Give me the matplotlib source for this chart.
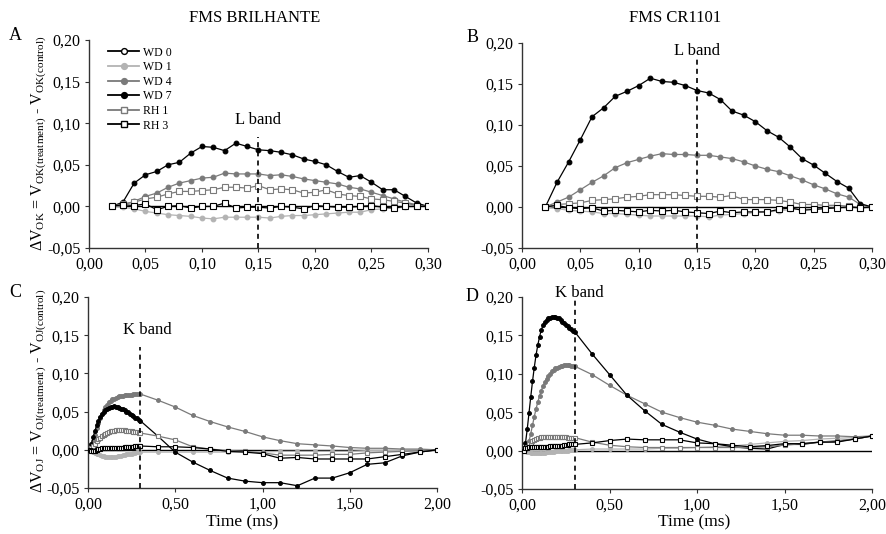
import matplotlib
matplotlib.use("Agg")
import matplotlib.pyplot as plt
from matplotlib.lines import Line2D
from matplotlib.ticker import FuncFormatter, MultipleLocator

plt.rcParams["font.family"] = ["Liberation Serif", "DejaVu Serif"]
plt.rcParams["mathtext.fontset"] = "custom"
plt.rcParams["mathtext.rm"] = "Liberation Serif"
plt.rcParams["mathtext.it"] = "Liberation Serif:italic"

# ---------------------------------------------------------------------
# data
# ---------------------------------------------------------------------

# L band panels: normalised time 0.02 .. 0.30 ms
t_L = [0.02, 0.03, 0.04, 0.05, 0.06, 0.07, 0.08, 0.09, 0.10, 0.11,
       0.12, 0.13, 0.14, 0.15, 0.16, 0.17, 0.18, 0.19, 0.20, 0.21,
       0.22, 0.23, 0.24, 0.25, 0.26, 0.27, 0.28, 0.29, 0.30]

# K band panels: time 0.01 .. 2.00 ms
t_K = [0.01, 0.02, 0.03, 0.04, 0.05, 0.06, 0.07, 0.08, 0.09, 0.10,
       0.11, 0.12, 0.13, 0.14, 0.15, 0.16, 0.17, 0.18, 0.19, 0.20,
       0.21, 0.22, 0.23, 0.24, 0.25, 0.26, 0.27, 0.28, 0.29, 0.30,
       0.4, 0.5, 0.6, 0.7, 0.8, 0.9, 1.0, 1.1, 1.2, 1.3,
       1.4, 1.5, 1.6, 1.7, 1.8, 1.9, 2.0]

# panel A - FMS BRILHANTE, L band
A_WD1 = [0, -0.001, -0.003, -0.006, -0.008, -0.010, -0.011, -0.012, -0.014, -0.015,
         -0.013, -0.013, -0.013, -0.013, -0.014, -0.012, -0.011, -0.011, -0.010, -0.009,
         -0.008, -0.007, -0.007, -0.004, -0.003, -0.002, -0.001, 0, 0]
A_WD4 = [0, 0.002, 0.006, 0.012, 0.016, 0.023, 0.028, 0.031, 0.034, 0.035,
         0.040, 0.039, 0.039, 0.039, 0.037, 0.038, 0.036, 0.033, 0.031, 0.029,
         0.027, 0.023, 0.021, 0.017, 0.013, 0.009, 0.005, 0.002, 0]
A_WD7 = [0, 0.005, 0.028, 0.038, 0.042, 0.050, 0.053, 0.064, 0.072, 0.071,
         0.067, 0.076, 0.072, 0.068, 0.067, 0.065, 0.062, 0.057, 0.054, 0.050,
         0.042, 0.035, 0.037, 0.029, 0.020, 0.020, 0.012, 0.004, 0]
A_RH1 = [0, 0.003, 0.005, 0.009, 0.011, 0.015, 0.018, 0.018, 0.019, 0.020,
         0.023, 0.023, 0.022, 0.025, 0.020, 0.021, 0.020, 0.016, 0.017, 0.020,
         0.015, 0.013, 0.012, 0.009, 0.008, 0.006, 0.004, 0.001, 0]
A_RH3 = [0, 0.002, 0.001, 0.003, -0.004, 0.000, 0.001, -0.002, 0.000, 0.000,
         0.004, -0.002, -0.001, -0.001, -0.002, 0.000, -0.001, -0.003, 0.001, 0.000,
         -0.001, -0.001, 0.000, 0.001, -0.001, -0.002, 0.000, 0.000, 0]

# panel B - FMS CR1101, L band
B_WD1 = [0, -0.002, -0.004, -0.005, -0.006, -0.008, -0.008, -0.009, -0.010, -0.011,
         -0.011, -0.011, -0.011, -0.011, -0.012, -0.010, -0.009, -0.008, -0.007, -0.006,
         -0.005, -0.003, -0.003, -0.002, -0.002, -0.001, -0.001, 0, 0]
B_WD4 = [0, 0.006, 0.012, 0.021, 0.030, 0.038, 0.048, 0.054, 0.058, 0.062,
         0.065, 0.064, 0.064, 0.063, 0.063, 0.061, 0.059, 0.055, 0.050, 0.046,
         0.043, 0.038, 0.033, 0.027, 0.022, 0.016, 0.012, 0.003, 0]
B_WD7 = [0, 0.030, 0.055, 0.082, 0.110, 0.121, 0.135, 0.141, 0.148, 0.157,
         0.153, 0.152, 0.148, 0.142, 0.139, 0.131, 0.117, 0.112, 0.104, 0.093,
         0.085, 0.073, 0.059, 0.051, 0.041, 0.031, 0.023, 0.004, 0]
B_RH1 = [0, 0.003, 0.004, 0.005, 0.008, 0.009, 0.010, 0.012, 0.013, 0.015,
         0.015, 0.015, 0.014, 0.013, 0.013, 0.012, 0.014, 0.009, 0.009, 0.009,
         0.008, 0.006, 0.003, 0.003, 0.002, 0.002, 0.001, -0.001, 0]
B_RH3 = [0, 0.002, -0.001, -0.002, -0.001, -0.005, -0.004, -0.005, -0.006, -0.004,
         -0.005, -0.004, -0.006, -0.007, -0.008, -0.005, -0.007, -0.006, -0.006, -0.006,
         -0.003, -0.001, -0.004, -0.003, -0.002, -0.001, 0, -0.001, 0]

# panel C - FMS BRILHANTE, K band
C_WD1 = [0, -0.002, -0.003, -0.004, -0.005, -0.006, -0.007, -0.008, -0.008, -0.009,
         -0.009, -0.009, -0.009, -0.009, -0.009, -0.009, -0.008, -0.008, -0.008, -0.007,
         -0.007, -0.006, -0.006, -0.005, -0.005, -0.004, -0.004, -0.003, -0.003, -0.003,
         -0.003, -0.003, -0.003, -0.003, -0.003, -0.003, -0.003, -0.002, -0.002, -0.002,
         -0.002, -0.002, -0.001, -0.001, -0.001, -0.001, 0]
C_WD4 = [0, 0.005, 0.012, 0.020, 0.028, 0.035, 0.042, 0.047, 0.052, 0.056,
         0.059, 0.062, 0.064, 0.066, 0.067, 0.068, 0.069, 0.070, 0.071, 0.071,
         0.072, 0.072, 0.072, 0.072, 0.072, 0.073, 0.073, 0.073, 0.073, 0.073,
         0.065, 0.056, 0.045, 0.037, 0.030, 0.024, 0.017, 0.012, 0.008, 0.0065,
         0.005, 0.003, 0.002, 0.002, 0.001, 0.001, 0]
C_WD7 = [0, 0.008, 0.017, 0.025, 0.032, 0.038, 0.043, 0.047, 0.050, 0.052,
         0.054, 0.055, 0.056, 0.056, 0.057, 0.056, 0.056, 0.055, 0.054, 0.053,
         0.052, 0.050, 0.049, 0.047, 0.046, 0.044, 0.042, 0.041, 0.039, 0.038,
         0.018, -0.003, -0.016, -0.027, -0.037, -0.041, -0.043, -0.043, -0.047, -0.037,
         -0.037, -0.030, -0.019, -0.017, -0.008, -0.003, 0]
C_RH1 = [0, 0.002, 0.005, 0.008, 0.011, 0.014, 0.016, 0.018, 0.020, 0.021,
         0.022, 0.023, 0.024, 0.025, 0.025, 0.026, 0.026, 0.026, 0.026, 0.026,
         0.026, 0.025, 0.025, 0.024, 0.024, 0.023, 0.023, 0.023, 0.022, 0.022,
         0.018, 0.013, 0.004, 0.001, -0.001, -0.002, -0.004, -0.007, -0.007, -0.007,
         -0.006, -0.006, -0.004, -0.003, -0.002, -0.001, 0]
C_RH3 = [0, -0.001, -0.002, -0.001, 0.000, 0.001, 0.001, 0.002, 0.002, 0.002,
         0.003, 0.003, 0.003, 0.003, 0.003, 0.003, 0.003, 0.003, 0.003, 0.003,
         0.004, 0.004, 0.004, 0.004, 0.004, 0.004, 0.005, 0.005, 0.005, 0.005,
         0.004, 0.004, 0.003, 0.001, -0.002, -0.003, -0.005, -0.011, -0.010, -0.012,
         -0.012, -0.012, -0.012, -0.009, -0.006, -0.003, 0]

# panel D - FMS CR1101, K band
D_WD1 = [0, -0.001, -0.002, -0.002, -0.003, -0.003, -0.003, -0.003, -0.003, -0.003,
         -0.003, -0.003, -0.003, -0.002, -0.002, -0.002, -0.002, -0.002, -0.001, -0.001,
         -0.001, -0.001, 0.000, 0.000, 0.000, 0.000, 0.001, 0.001, 0.001, 0.001,
         0.002, 0.002, 0.002, 0.002, 0.003, 0.003, 0.004, 0.005, 0.006, 0.008,
         0.010, 0.012, 0.013, 0.015, 0.016, 0.017, 0.019]
D_WD4 = [0, 0.002, 0.006, 0.012, 0.022, 0.033, 0.044, 0.054, 0.063, 0.071,
         0.078, 0.084, 0.089, 0.093, 0.097, 0.100, 0.103, 0.105, 0.107, 0.108,
         0.109, 0.110, 0.110, 0.111, 0.111, 0.111, 0.111, 0.110, 0.110, 0.110,
         0.099, 0.085, 0.072, 0.061, 0.050, 0.043, 0.037, 0.033, 0.028, 0.025,
         0.022, 0.020, 0.020, 0.019, 0.019, 0.018, 0.019]
D_WD7 = [0, 0.010, 0.028, 0.049, 0.070, 0.090, 0.108, 0.124, 0.137, 0.148,
         0.157, 0.163, 0.167, 0.170, 0.172, 0.173, 0.174, 0.174, 0.174, 0.173,
         0.172, 0.170, 0.168, 0.166, 0.164, 0.162, 0.160, 0.158, 0.156, 0.155,
         0.126, 0.099, 0.072, 0.052, 0.034, 0.024, 0.015, 0.009, 0.005, 0.003,
         0.002, 0.008, 0.008, 0.011, 0.012, 0.015, 0.019]
D_RH1 = [0, 0.002, 0.005, 0.008, 0.010, 0.012, 0.014, 0.015, 0.016, 0.017,
         0.018, 0.018, 0.018, 0.018, 0.018, 0.018, 0.018, 0.018, 0.018, 0.018,
         0.018, 0.018, 0.018, 0.018, 0.018, 0.017, 0.017, 0.017, 0.017, 0.017,
         0.011, 0.007, 0.005, 0.004, 0.004, 0.004, 0.004, 0.004, 0.004, 0.004,
         0.005, 0.007, 0.009, 0.011, 0.013, 0.015, 0.019]
D_RH3 = [0, 0.003, 0.004, 0.005, 0.005, 0.005, 0.005, 0.005, 0.005, 0.005,
         0.005, 0.005, 0.005, 0.005, 0.005, 0.006, 0.006, 0.006, 0.006, 0.006,
         0.006, 0.006, 0.006, 0.007, 0.007, 0.007, 0.008, 0.008, 0.008, 0.008,
         0.010, 0.013, 0.015, 0.014, 0.014, 0.014, 0.010, 0.009, 0.007, 0.005,
         0.0065, 0.009, 0.009, 0.011, 0.011, 0.015, 0.019]

labels = ["WD 0", "WD 1", "WD 4", "WD 7", "RH 1", "RH 3"]

# band markers: position and top of dashed line
band_x = {"A": 0.15, "B": 0.15, "C": 0.30, "D": 0.30}
band_top = {"A": 0.083, "B": 0.180, "C": 0.135, "D": 0.200}
band_text = {"A": "L band", "B": "L band", "C": "K band", "D": "K band"}

# ---------------------------------------------------------------------
# styles
# ---------------------------------------------------------------------

LIGHT = "#b3b3b3"
MID = "#7a7a7a"
STYLES = [
    dict(color="black", marker="o", mfc="white", mec="black"),
    dict(color=LIGHT, marker="o", mfc=LIGHT, mec=LIGHT),
    dict(color=MID, marker="o", mfc=MID, mec=MID),
    dict(color="black", marker="o", mfc="black", mec="black"),
    dict(color=MID, marker="s", mfc="white", mec=MID),
    dict(color="black", marker="s", mfc="white", mec="black"),
]


def comma_fmt(v, pos):
    return f"{v:.2f}".replace(".", ",")


def draw_panel(ax, x, series, key, xmax, xstep, ms):
    # WD 0 is the control: flat zero line
    ax.plot([x[0], x[-1]], [0, 0], color="black", lw=1.0, zorder=2)
    for ys, st in zip(series, STYLES[1:]):
        size = ms + 0.5 if st["marker"] == "s" else ms
        ax.plot(x, ys, color=st["color"], lw=0.9, marker=st["marker"],
                ms=size, mfc=st["mfc"], mec=st["mec"], mew=0.8, zorder=3)

    bx = band_x[key]
    ax.plot([bx, bx], [-0.05, band_top[key]], color="black", lw=1.2,
            ls=(0, (3, 2.5)), zorder=4)

    ax.set_xlim(0, xmax)
    ax.set_ylim(-0.05, 0.20)
    ax.xaxis.set_major_locator(MultipleLocator(xstep))
    ax.yaxis.set_major_locator(MultipleLocator(0.05))
    ax.xaxis.set_major_formatter(FuncFormatter(comma_fmt))
    ax.yaxis.set_major_formatter(FuncFormatter(comma_fmt))
    for side in ["top", "right"]:
        ax.spines[side].set_visible(False)
    for side in ["left", "bottom"]:
        ax.spines[side].set_color("#333333")
        ax.spines[side].set_linewidth(1.0)
    ax.tick_params(direction="out", length=3, width=0.8, labelsize=11.5,
                   colors="#333333", labelcolor="black", pad=3)


fig = plt.figure(figsize=(8.87, 5.34), dpi=100)

axA = fig.add_axes([0.1003, 0.5356, 0.3822, 0.3895])
axB = fig.add_axes([0.5885, 0.5356, 0.3946, 0.3840])
axC = fig.add_axes([0.0992, 0.0861, 0.3935, 0.3577])
axD = fig.add_axes([0.5885, 0.0843, 0.3946, 0.3596])

draw_panel(axA, t_L, [A_WD1, A_WD4, A_WD7, A_RH1, A_RH3], "A", 0.30, 0.05, 3.4)
draw_panel(axB, t_L, [B_WD1, B_WD4, B_WD7, B_RH1, B_RH3], "B", 0.30, 0.05, 3.4)
draw_panel(axC, t_K, [C_WD1, C_WD4, C_WD7, C_RH1, C_RH3], "C", 2.0, 0.5, 2.7)
draw_panel(axD, t_K, [D_WD1, D_WD4, D_WD7, D_RH1, D_RH3], "D", 2.0, 0.5, 2.7)

# band labels
axA.text(0.15, 0.104, band_text["A"], ha="center", va="center", fontsize=12)
axB.text(0.15, 0.190, band_text["B"], ha="center", va="center", fontsize=12)
axC.text(0.34, 0.157, band_text["C"], ha="center", va="center", fontsize=12)
axD.text(0.33, 0.205, band_text["D"], ha="center", va="center", fontsize=12)

# y labels
fig.text(0.044, 0.732,
         r"$\Delta$V$_{\mathrm{OK}}$ = V$_{\mathrm{OK(treatment)}}$ - V$_{\mathrm{OK(control)}}$",
         rotation=90, ha="center", va="center", fontsize=11.5)
fig.text(0.044, 0.268,
         r"$\Delta$V$_{\mathrm{OJ}}$ = V$_{\mathrm{OJ(treatment)}}$ - V$_{\mathrm{OJ(control)}}$",
         rotation=90, ha="center", va="center", fontsize=11.5)

# x labels
fig.text(0.273, 0.022, "Time (ms)", ha="center", va="center", fontsize=12.5)
fig.text(0.782, 0.022, "Time (ms)", ha="center", va="center", fontsize=12.5)

# titles and panel letters
fig.text(0.287, 0.966, "FMS BRILHANTE", ha="center", va="center", fontsize=12)
fig.text(0.761, 0.966, "FMS CR1101", ha="center", va="center", fontsize=12)
fig.text(0.017, 0.934, "A", ha="center", va="center", fontsize=13)
fig.text(0.533, 0.929, "B", ha="center", va="center", fontsize=13)
fig.text(0.017, 0.453, "C", ha="center", va="center", fontsize=13)
fig.text(0.532, 0.444, "D", ha="center", va="center", fontsize=13)

# legend with proxy handles
handles = []
for lab, st in zip(labels, STYLES):
    size = 5.0 if lab == "RH 3" else 4.2
    handles.append(Line2D([], [], color=st["color"], lw=1.3, marker=st["marker"],
                          ms=size, mfc=st["mfc"], mec=st["mec"], mew=1.0, label=lab))
axA.legend(handles=handles, loc="upper left", bbox_to_anchor=(0.05, 0.98),
           frameon=False, fontsize=8.5, numpoints=1, handlelength=2.6,
           handletextpad=0.3, labelspacing=0.22, borderaxespad=0, borderpad=0.2)

fig.savefig("out.png", dpi=100)
